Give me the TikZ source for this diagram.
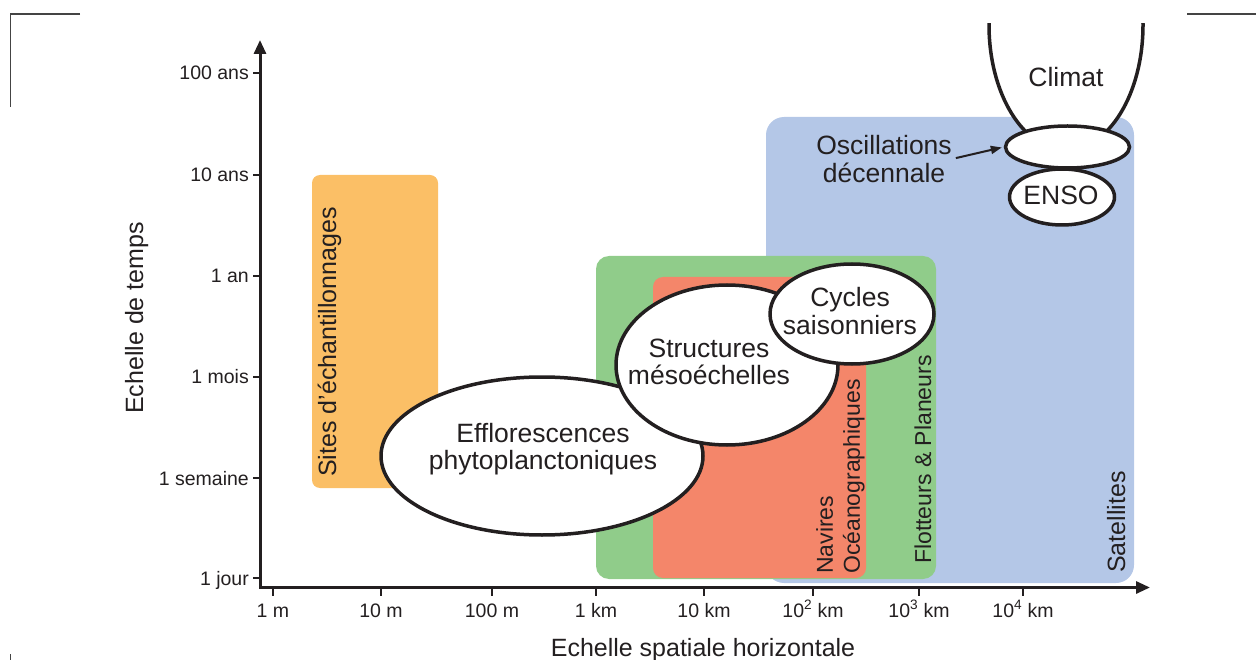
\documentclass[tikz,border=0pt]{standalone}
\usepackage{fontspec}
\setmainfont{Liberation Sans}
\usetikzlibrary{arrows.meta,shapes.geometric}
\definecolor{ink}{HTML}{231F20}
\definecolor{orng}{HTML}{FBBF66}
\definecolor{grn}{HTML}{90CC8A}
\definecolor{slm}{HTML}{F4866A}
\definecolor{blu}{HTML}{B4C7E7}
\definecolor{cropc}{HTML}{444444}
\begin{document}
\begin{tikzpicture}[x=1pt,y=-1pt,
  blob/.style={ellipse, draw=ink, fill=white, line width=3.5pt, inner sep=0pt},
  lbl/.style={font=\fontsize{26.5}{27.5}\selectfont, text=ink, align=center, inner sep=0pt},
  vlbl/.style={font=\fontsize{25}{27}\selectfont, text=ink, rotate=90, inner sep=0pt},
  vlbls/.style={font=\fontsize{23}{27}\selectfont, text=ink, rotate=90, inner sep=0pt},
  ticklbl/.style={font=\fontsize{19.5}{22}\selectfont, text=ink, inner sep=0pt},
  tickline/.style={draw=ink, line width=1.3pt},
  axt/.style={font=\fontsize{25}{27}\selectfont, text=ink, inner sep=0pt},
  axisline/.style={draw=ink, line width=3pt},
  cropline/.style={draw=cropc, line width=1.3pt},
  pointer/.style={draw=ink, line width=2pt, -{Triangle[length=11pt,width=8pt]}}]
\useasboundingbox (0,0) rectangle (1256,660);

% crop marks
\draw[cropline] (80,14) -- (10.5,14) -- (10.5,107);
\draw[cropline] (1187,14) -- (1256,14);
\draw[cropline] (10.5,654) -- (10.5,660);

% coloured ranges
\fill[orng, rounded corners=8] (312,175) rectangle (438,488);
\fill[blu, rounded corners=18] (766,117) rectangle (1134,583);
\fill[grn, rounded corners=13] (596,256) rectangle (936,579);
\fill[slm, rounded corners=10] (653,277) rectangle (866,578);

% axes
\coordinate (ytip) at (260,40);
\coordinate (orig) at (260,587.5);
\coordinate (xtip) at (1150,587.5);
\draw[axisline, {Triangle[length=14pt,width=12pt]}-{Triangle[length=14pt,width=12pt]}] (ytip) -- (orig) -- (xtip);

\foreach \yy/\tt [count=\i] in {73/100 ans, 175/10 ans, 276/1 an, 377/1 mois, 478/1 semaine, 578/1 jour}{
  \draw[tickline] (253,\yy) -- (260,\yy);
  \node[ticklbl, anchor=base east] (yl\i) at (249,\yy+7) {\tt};
}
\foreach \xx/\tt [count=\i] in {273/1 m, 381/10 m, 492/100 m, 596/1 km, 704/10 km, 813/10\textsuperscript{2} km, 919/10\textsuperscript{3} km, 1023/10\textsuperscript{4} km}{
  \draw[tickline] (\xx,589) -- (\xx,596);
  \node[ticklbl, anchor=base] (xl\i) at (\xx,617) {\tt};
}

\node[axt, anchor=base] (xlab) at (703,656) {Echelle spatiale horizontale};
\node[axt, anchor=base, rotate=90] (ylab) at (143,318) {Echelle de temps};

% range labels
\node[vlbl, anchor=base west] (tsites) at (336,477) {Sites d’échantillonnages};
\node[vlbls, anchor=north west, align=left] (tnav) at (816,574) {Navires\\Océanographiques};
\node[vlbls, anchor=base west] (tflot) at (931,564) {Flotteurs \& Planeurs};
\node[vlbl, anchor=base west] (tsat) at (1125,573) {Satellites};

% processes
\node[blob, minimum width=322, minimum height=158] (efl) at (542,456) {};
\node[blob, minimum width=222, minimum height=160] (str) at (727,365) {};
\node[blob, minimum width=164, minimum height=100] (cyc) at (852,314) {};
\begin{scope}
  \clip (900,24) rectangle (1200,300);
  \node[blob, minimum width=154, minimum height=250] (clim) at (1066,25) {};
\end{scope}
\node[blob, minimum width=105, minimum height=56] (enso) at (1062,197) {};
\node[blob, minimum width=124, minimum height=42] (osc) at (1067.5,147) {};

\node[lbl] (tefl) at (543,449) {Efflorescences\\phytoplanctoniques};
\node[lbl] (tstr) at (709,362) {Structures\\mésoéchelles};
\node[lbl] (tcyc) at (850,311) {Cycles\\saisonniers};
\node[lbl] (tclim) at (1066,77) {Climat};
\node[lbl] (tenso) at (1061,195) {ENSO};
\node[lbl] (tosc) at (884,159) {Oscillations\\décennale};

\draw[pointer, shorten <=4pt, shorten >=2pt] (tosc.east) -- (osc.west);
\end{tikzpicture}
\end{document}
